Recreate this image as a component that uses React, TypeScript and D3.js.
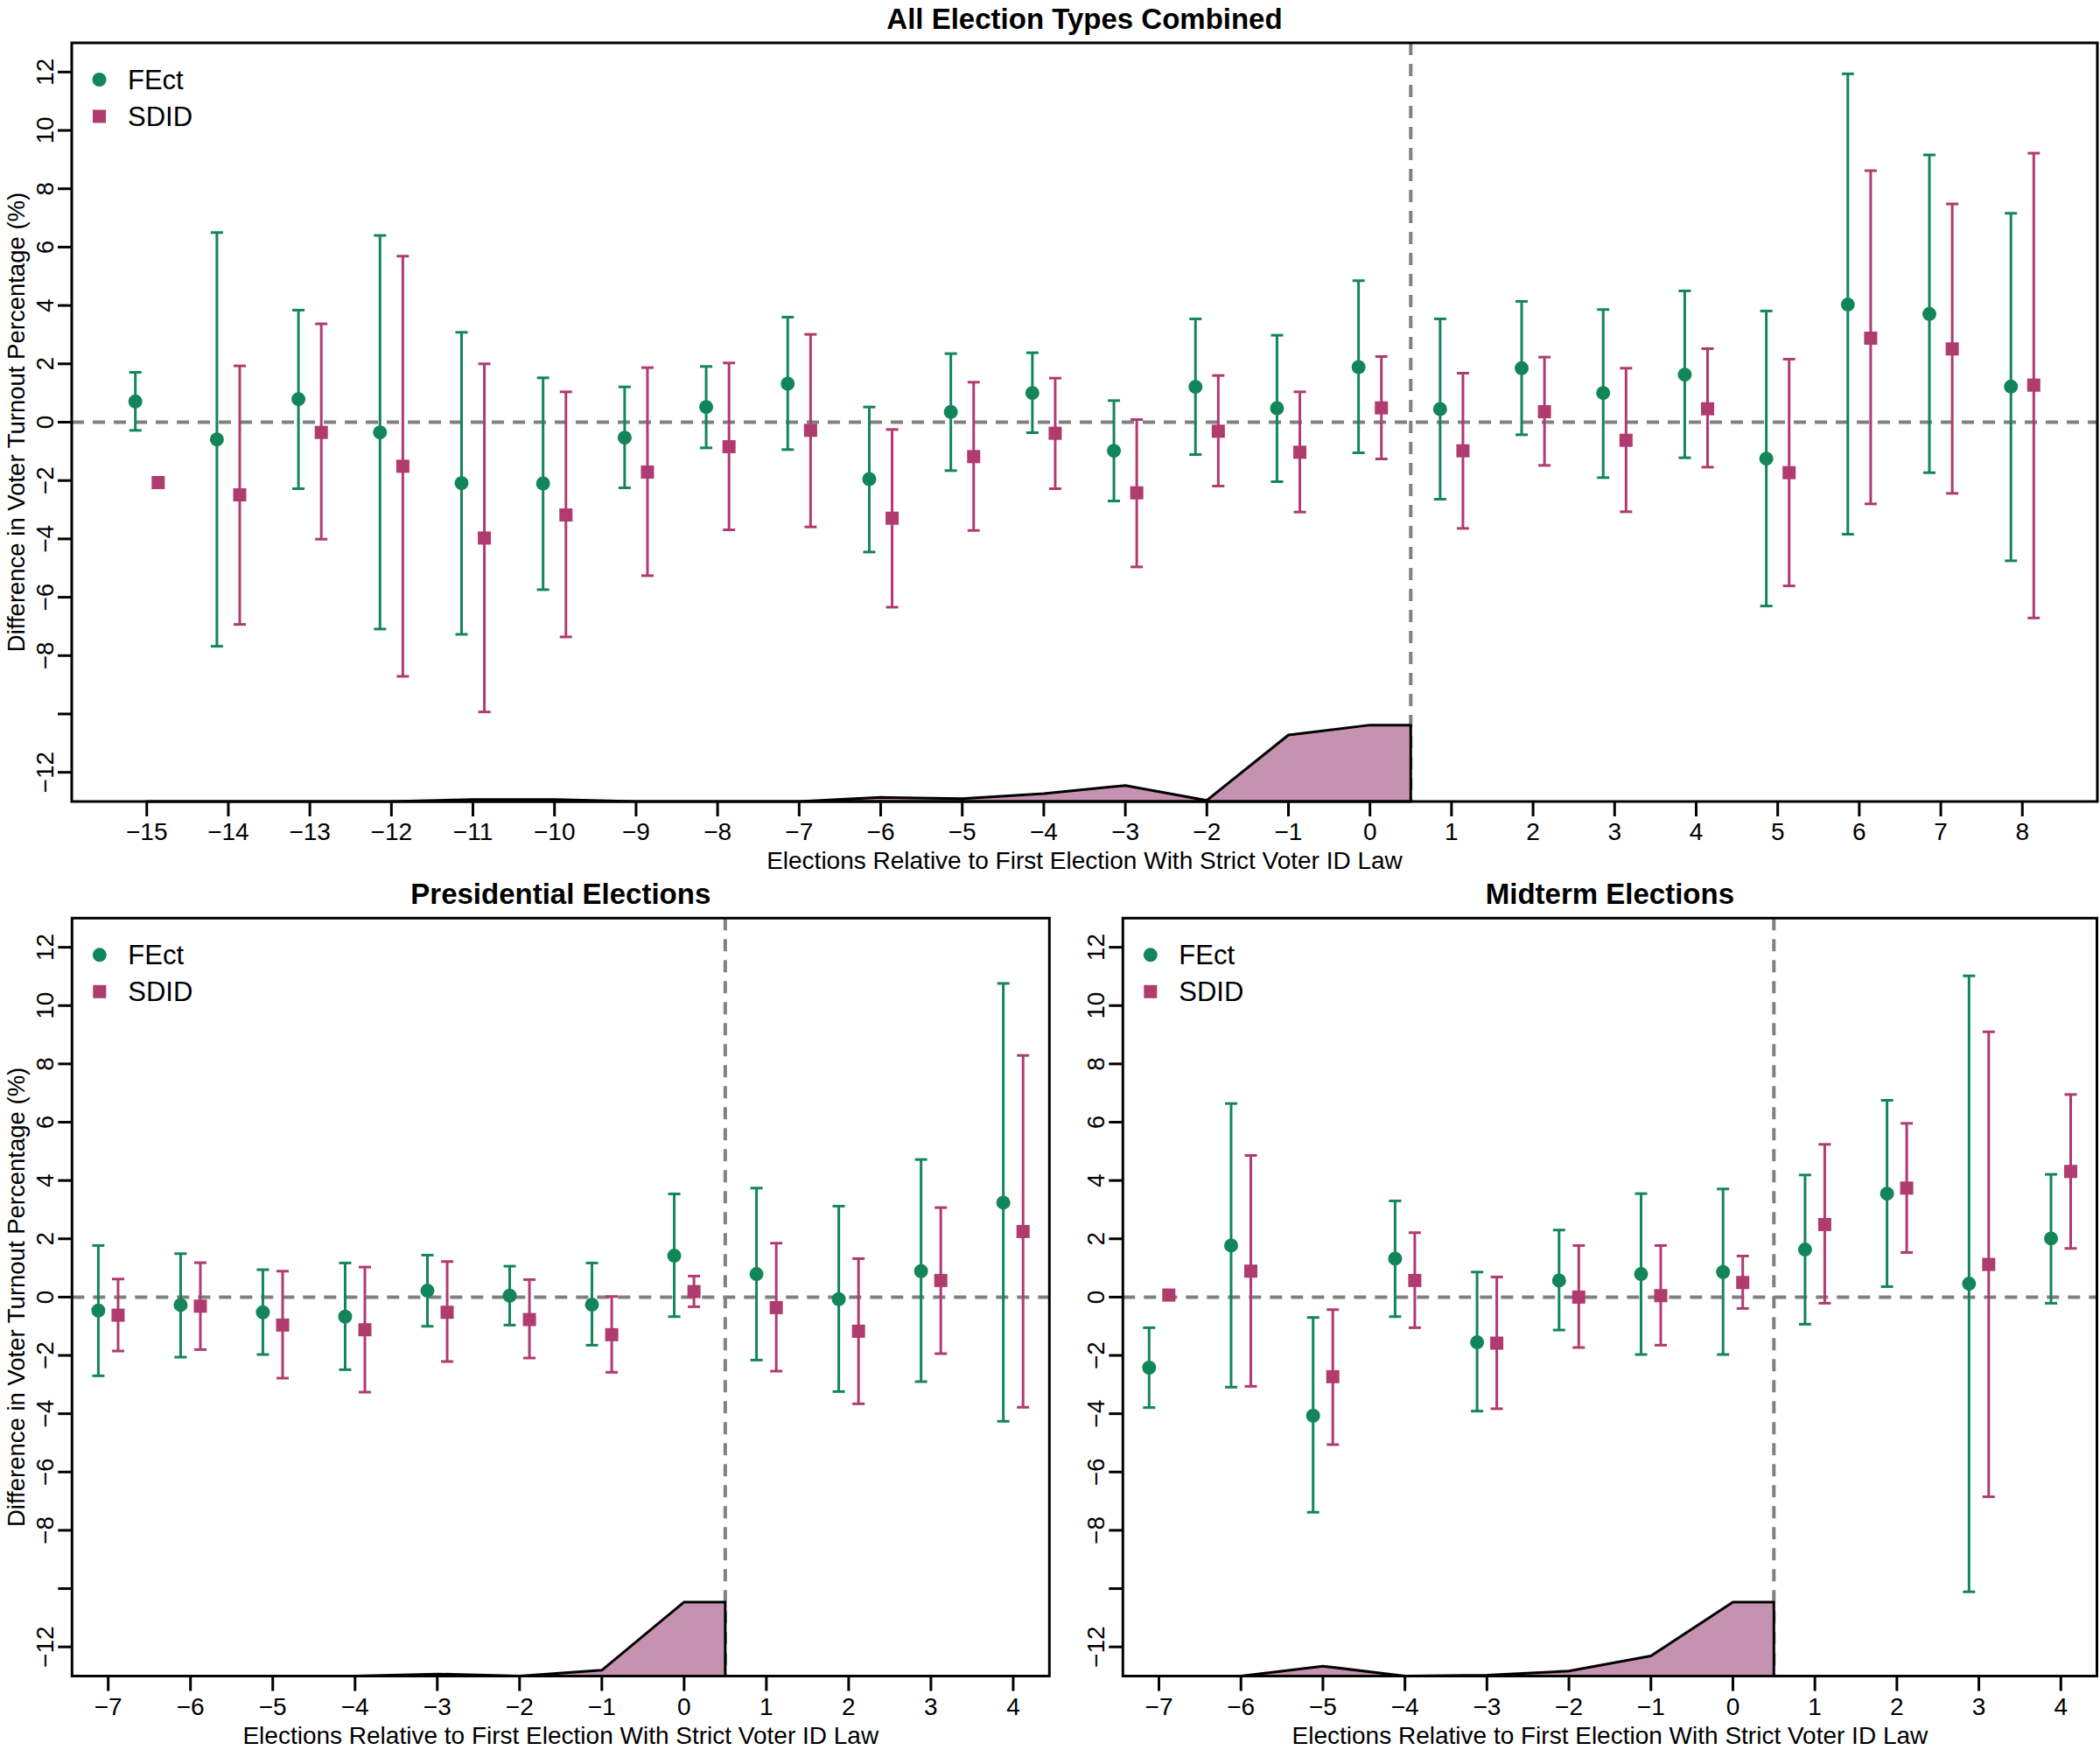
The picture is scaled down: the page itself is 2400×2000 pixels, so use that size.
import * as d3 from 'd3';

// ---- data ----
const allPeriods = [-15, -14, -13, -12, -11, -10, -9, -8, -7, -6, -5, -4, -3, -2, -1, 0, 1, 2, 3, 4, 5, 6, 7, 8];
const allFectEst = [0.71, -0.59, 0.79, -0.35, -2.09, -2.1, -0.53, 0.52, 1.32, -1.95, 0.35, 1.0, -0.98, 1.21, 0.48, 1.89, 0.45, 1.85, 1.0, 1.63, -1.25, 4.03, 3.71, 1.22];
const allFectLo = [-0.28, -7.68, -2.28, -7.09, -7.27, -5.74, -2.25, -0.88, -0.94, -4.45, -1.66, -0.36, -2.7, -1.11, -2.04, -1.05, -2.64, -0.43, -1.9, -1.22, -6.3, -3.84, -1.73, -4.75];
const allFectHi = [1.71, 6.5, 3.84, 6.4, 3.08, 1.52, 1.21, 1.91, 3.6, 0.52, 2.35, 2.38, 0.74, 3.54, 2.98, 4.85, 3.54, 4.14, 3.86, 4.5, 3.81, 11.94, 9.16, 7.16];
const allSdidEst = [-2.07, -2.49, -0.35, -1.51, -3.97, -3.18, -1.71, -0.84, -0.28, -3.29, -1.18, -0.38, -2.42, -0.31, -1.03, 0.49, -0.98, 0.36, -0.62, 0.46, -1.73, 2.88, 2.51, 1.27];
const allSdidLo = [null, -6.93, -4.01, -8.71, -9.93, -7.36, -5.26, -3.69, -3.59, -6.34, -3.71, -2.28, -4.96, -2.19, -3.08, -1.26, -3.64, -1.48, -3.07, -1.54, -5.61, -2.8, -2.44, -6.71];
const allSdidHi = [null, 1.93, 3.37, 5.69, 2.0, 1.04, 1.87, 2.03, 3.01, -0.25, 1.37, 1.51, 0.09, 1.6, 1.04, 2.25, 1.68, 2.23, 1.85, 2.52, 2.16, 8.62, 7.48, 9.22];
const allHistX = [-15, -14, -13, -12, -11, -10, -9, -8, -7, -6, -5, -4, -3, -2, -1, 0];
const allHistH = [0, 0, 0, 0, 0.07, 0.07, 0, 0, 0, 0.14, 0.1, 0.27, 0.55, 0.04, 2.28, 2.62];

const subPeriods = [-7, -6, -5, -4, -3, -2, -1, 0, 1, 2, 3, 4];

const presFectEst = [-0.46, -0.27, -0.52, -0.67, 0.22, 0.05, -0.26, 1.42, 0.79, -0.07, 0.89, 3.24];
const presFectLo = [-2.7, -2.06, -1.97, -2.49, -1.0, -0.96, -1.65, -0.67, -2.16, -3.24, -2.9, -4.26];
const presFectHi = [1.77, 1.49, 0.94, 1.17, 1.44, 1.06, 1.17, 3.54, 3.74, 3.12, 4.72, 10.76];
const presSdidEst = [-0.62, -0.31, -0.96, -1.12, -0.52, -0.77, -1.29, 0.19, -0.36, -1.17, 0.57, 2.25];
const presSdidLo = [-1.85, -1.8, -2.78, -3.26, -2.21, -2.09, -2.58, -0.33, -2.54, -3.66, -1.94, -3.78];
const presSdidHi = [0.62, 1.18, 0.89, 1.03, 1.22, 0.6, 0.02, 0.72, 1.85, 1.32, 3.07, 8.29];
const presHistX = [-7, -6, -5, -4, -3, -2, -1, 0];
const presHistH = [0, 0, 0, 0, 0.07, 0, 0.2, 2.54];

const midFectEst = [-2.42, 1.77, -4.07, 1.32, -1.55, 0.57, 0.79, 0.86, 1.63, 3.55, 0.46, 2.01];
const midFectLo = [-3.79, -3.09, -7.38, -0.67, -3.91, -1.13, -1.97, -1.97, -0.93, 0.36, -10.11, -0.21];
const midFectHi = [-1.05, 6.64, -0.7, 3.3, 0.86, 2.3, 3.55, 3.71, 4.19, 6.75, 11.02, 4.21];
const midSdidEst = [0.07, 0.89, -2.73, 0.57, -1.58, 0.0, 0.05, 0.5, 2.49, 3.74, 1.12, 4.31];
const midSdidLo = [null, -3.06, -5.06, -1.05, -3.83, -1.73, -1.65, -0.39, -0.21, 1.53, -6.85, 1.67];
const midSdidHi = [null, 4.86, -0.43, 2.21, 0.69, 1.77, 1.77, 1.41, 5.24, 5.96, 9.1, 6.95];
const midHistX = [-7, -6, -5, -4, -3, -2, -1, 0];
const midHistH = [0, 0, 0.34, 0, 0.03, 0.17, 0.69, 2.54];

const yTickValues = [12, 10, 8, 6, 4, 2, 0, -2, -4, -6, -8, -10, -12];
const yTickLabels = ['12', '10', '8', '6', '4', '2', '0', '\u22122', '\u22124', '\u22126', '\u22128', '', '\u221212'];

const GREEN = '#12865A';
const MAGENTA = '#B03B6F';
const HIST_FILL = '#C592B0';
const FONT = '"Liberation Sans", Arial, Helvetica, sans-serif';

const fmt = (v: number) => (v < 0 ? '\u2212' + Math.abs(v) : String(v));

interface PanelProps {
  title: string;
  left: number;
  right: number;
  top: number;
  bottom: number;
  xDomain: [number, number];
  periods: number[];
  offset: number;
  fectEst: number[];
  fectLo: number[];
  fectHi: number[];
  sdidEst: number[];
  sdidLo: (number | null)[];
  sdidHi: (number | null)[];
  histX: number[];
  histH: number[];
}

function Panel(p: PanelProps) {
  const x = d3.scaleLinear().domain(p.xDomain).range([p.left, p.right]);
  const y = d3.scaleLinear().domain([-13, 13]).range([p.bottom, p.top]);
  const base = -13;
  const cap = 7;

  const histPts: [number, number][] = [
    [p.histX[0], base],
    ...p.histX.map((v, i) => [v, base + p.histH[i]] as [number, number]),
    [0.5, base + p.histH[p.histH.length - 1]],
    [0.5, base],
  ];
  const histPath = d3
    .line<[number, number]>()
    .x((d) => x(d[0]))
    .y((d) => y(d[1]))(histPts) + 'Z';

  const bar = (cx: number, lo: number | null, hi: number | null, color: string, key: string) => {
    if (lo == null || hi == null) return null;
    return (
      <g key={key} stroke={color} strokeWidth={3}>
        <line x1={cx} x2={cx} y1={y(lo)} y2={y(hi)} />
        <line x1={cx - cap} x2={cx + cap} y1={y(lo)} y2={y(lo)} />
        <line x1={cx - cap} x2={cx + cap} y1={y(hi)} y2={y(hi)} />
      </g>
    );
  };

  const cxMid = (p.left + p.right) / 2;
  const cyMid = (p.top + p.bottom) / 2;

  return (
    <g fontFamily={FONT}>
      <text x={cxMid} y={p.top - 16} textAnchor="middle" fontSize={33} fontWeight="bold">
        {p.title}
      </text>

      {/* reference lines */}
      <line x1={p.left} x2={p.right} y1={y(0)} y2={y(0)} stroke="#808080" strokeWidth={4} strokeDasharray="14 10" />
      <line x1={x(0.5)} x2={x(0.5)} y1={p.top} y2={p.bottom} stroke="#808080" strokeWidth={4} strokeDasharray="14 10" />

      {/* treated-unit histogram */}
      <path d={histPath} fill={HIST_FILL} stroke="#000" strokeWidth={3} strokeLinejoin="round" />

      {p.periods.map((t, i) => bar(x(t - p.offset), p.fectLo[i], p.fectHi[i], GREEN, 'fb' + t))}
      {p.periods.map((t, i) => bar(x(t + p.offset), p.sdidLo[i], p.sdidHi[i], MAGENTA, 'sb' + t))}
      {p.periods.map((t, i) => (
        <circle key={'fp' + t} cx={x(t - p.offset)} cy={y(p.fectEst[i])} r={8} fill={GREEN} />
      ))}
      {p.periods.map((t, i) => (
        <rect key={'sp' + t} x={x(t + p.offset) - 7.5} y={y(p.sdidEst[i]) - 7.5} width={15} height={15} fill={MAGENTA} />
      ))}

      {/* box */}
      <rect x={p.left} y={p.top} width={p.right - p.left} height={p.bottom - p.top} fill="none" stroke="#000" strokeWidth={3} />

      {/* x axis */}
      {p.periods.map((t) => (
        <g key={'xt' + t}>
          <line x1={x(t)} x2={x(t)} y1={p.bottom} y2={p.bottom + 17} stroke="#000" strokeWidth={3} />
          <text x={x(t)} y={p.bottom + 44} textAnchor="middle" fontSize={28}>
            {fmt(t)}
          </text>
        </g>
      ))}
      <text x={cxMid} y={p.bottom + 77} textAnchor="middle" fontSize={28}>
        Elections Relative to First Election With Strict Voter ID Law
      </text>

      {/* y axis */}
      {yTickValues.map((v, i) => (
        <g key={'yt' + v}>
          <line x1={p.left - 16} x2={p.left} y1={y(v)} y2={y(v)} stroke="#000" strokeWidth={3} />
          <text transform={`translate(${p.left - 21},${y(v)}) rotate(-90)`} textAnchor="middle" fontSize={28}>
            {yTickLabels[i]}
          </text>
        </g>
      ))}
      {p.left < 200 && (
        <text transform={`translate(27.5,${cyMid}) rotate(-90)`} textAnchor="middle" fontSize={27.5}>
          Difference in Voter Turnout Percentage (%)
        </text>
      )}

      {/* legend */}
      <circle cx={p.left + 31.5} cy={p.top + 42} r={8} fill={GREEN} />
      <rect x={p.left + 24} y={p.top + 76.5} width={15} height={15} fill={MAGENTA} />
      <text x={p.left + 64} y={p.top + 52.5} fontSize={31}>FEct</text>
      <text x={p.left + 64} y={p.top + 95} fontSize={31}>SDID</text>
    </g>
  );
}

export default function App() {
  return (
    <div style={{ position: 'absolute', left: 0, top: 0 }}>
      <svg width={2400} height={2000} style={{ display: 'block', background: '#fff' }}>
        <Panel
          title="All Election Types Combined"
          left={82}
          right={2397}
          top={49}
          bottom={916}
          xDomain={[-15.92, 8.92]}
          periods={allPeriods}
          offset={0.14}
          fectEst={allFectEst}
          fectLo={allFectLo}
          fectHi={allFectHi}
          sdidEst={allSdidEst}
          sdidLo={allSdidLo}
          sdidHi={allSdidHi}
          histX={allHistX}
          histH={allHistH}
        />
        <Panel
          title="Presidential Elections"
          left={82.3}
          right={1199.3}
          top={1049.3}
          bottom={1915.5}
          xDomain={[-7.44, 4.44]}
          periods={subPeriods}
          offset={0.12}
          fectEst={presFectEst}
          fectLo={presFectLo}
          fectHi={presFectHi}
          sdidEst={presSdidEst}
          sdidLo={presSdidLo}
          sdidHi={presSdidHi}
          histX={presHistX}
          histH={presHistH}
        />
        <Panel
          title="Midterm Elections"
          left={1283.3}
          right={2396.5}
          top={1049.3}
          bottom={1915.5}
          xDomain={[-7.44, 4.44]}
          periods={subPeriods}
          offset={0.12}
          fectEst={midFectEst}
          fectLo={midFectLo}
          fectHi={midFectHi}
          sdidEst={midSdidEst}
          sdidLo={midSdidLo}
          sdidHi={midSdidHi}
          histX={midHistX}
          histH={midHistH}
        />
      </svg>
    </div>
  );
}
